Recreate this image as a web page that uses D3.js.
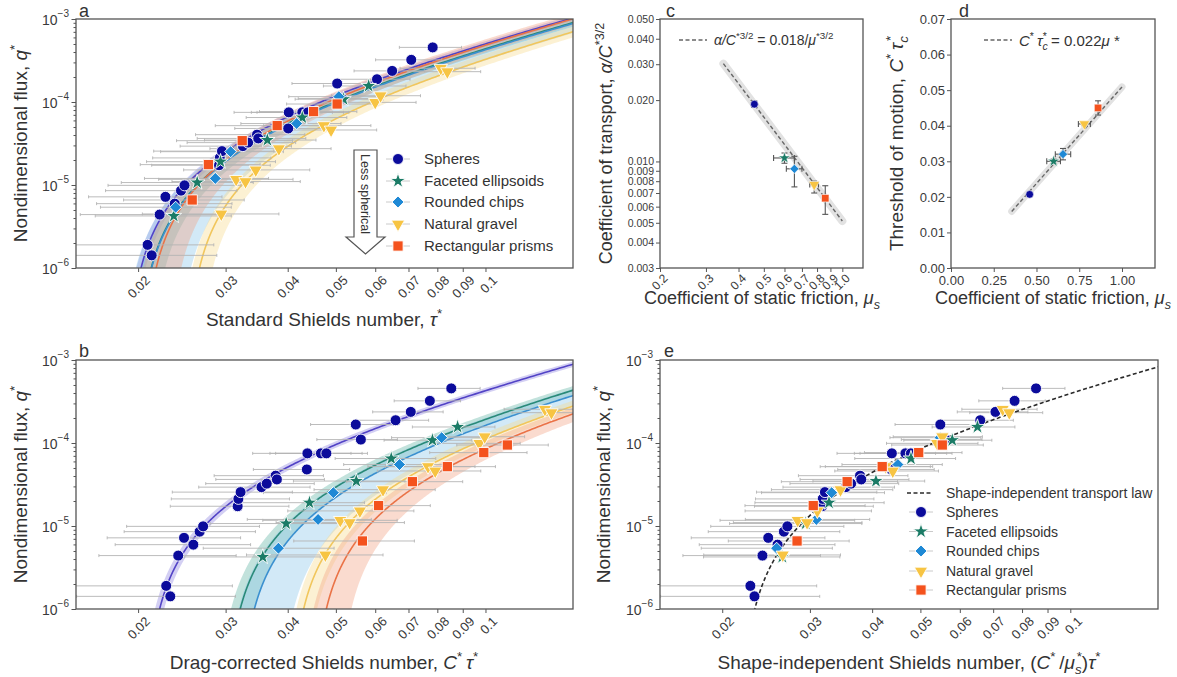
<!DOCTYPE html>
<html>
<head>
<meta charset="utf-8">
<script src="https://cdn.jsdelivr.net/npm/d3@7"></script>
<style>
  body { margin: 0; background: #fff; }
  text { font-family: "Liberation Sans", Arial, sans-serif; }
</style>
</head>
<body>
<div id="chart"></div>
<script>
// ---------- data ----------
var shapeNames = ["Spheres", "Faceted ellipsoids", "Rounded chips", "Natural gravel", "Rectangular prisms"];
var markerColors = ["#0b0b9b", "#1b7b66", "#1f89d5", "#f7c443", "#f4521d"];
var fitColors = ["#5243c6", "#2a8a78", "#3b90cf", "#f1c65c", "#ea7347"];
var bandColors = ["#8c82e0", "#5fb2a2", "#8ac4ea", "#f7d98c", "#f3a182"];

// drag coefficient C* (a -> b) and relative friction mu* (b -> e)
var dragC = [1.09, 1.51, 1.61, 1.62, 2.2];
var muRel = [1.0, 1.35, 1.49, 1.8, 2.0];

// panel c and d
var muS = [0.46, 0.60, 0.655, 0.78, 0.86];
var muErrC = [0.008, 0.055, 0.045, 0.03, 0.01];
var coefT = [0.0191, 0.0104, 0.0092, 0.0077, 0.0066];
var coefLo = [0.0184, 0.0098, 0.0075, 0.0070, 0.0055];
var coefHi = [0.0198, 0.0110, 0.0106, 0.0080, 0.0076];
var thresh = [0.0207, 0.030, 0.032, 0.0405, 0.045];
var threshErr = [0.0003, 0.0006, 0.0016, 0.0005, 0.002];
var muErrD = [0.008, 0.04, 0.045, 0.035, 0.01];

// fit bands in drag-corrected space: [coef, threshold] of upper and lower edge
var bandUpper = [[0.0205, 0.0203], [0.0115, 0.0288], [0.0108, 0.0298], [0.0088, 0.0393], [0.0076, 0.0425]];
var bandLower = [[0.0178, 0.0211], [0.0094, 0.0320], [0.0074, 0.0385], [0.0067, 0.0430], [0.0057, 0.0506]];

// shape-independent law (panel e)
var lawCoef = 0.018;
var lawThresh = 0.0218;

// fit lines in c and d (end points)
var fitC = [[0.35, 0.0302], [1.0, 0.0051]];
var fitD = [[0.355, 0.0159], [1.0, 0.0509]];

// measurements: standard Shields number, flux q*, error bar half width
var tauSph = [0.0209, 0.0213, 0.0221, 0.0227, 0.0237, 0.0244, 0.0248, 0.0291, 0.0292, 0.0295, 0.0325, 0.0333,
  0.0347, 0.0349, 0.0401, 0.0402, 0.0428, 0.0439, 0.0503, 0.0515, 0.0605, 0.0649, 0.0709, 0.0783];
var qSph = [1.9e-6, 1.42e-6, 4.4e-6, 7.2e-6, 5.96e-6, 8.55e-6, 9.9e-6, 1.73e-5, 2.12e-5, 2.56e-5, 2.94e-5, 3.24e-5,
  4.04e-5, 3.64e-5, 4.8e-5, 7.5e-5, 7.5e-5, 7.5e-5, 1.67e-4, 1.1e-4, 1.88e-4, 2.37e-4, 3.22e-4, 4.55e-4];
var errSph = [0.0075, 0.0075, 0.0068, 0.0068, 0.0072, 0.0072, 0.0074, 0.0078, 0.0078, 0.008, 0.0082, 0.0082,
  0.0086, 0.0086, 0.0088, 0.009, 0.009, 0.0092, 0.0095, 0.0095, 0.01, 0.0105, 0.0108, 0.0112];

var tauFac = [0.0236, 0.0263, 0.0293, 0.0364, 0.0428, 0.0518, 0.0582];
var qFac = [4.24e-6, 1.07e-5, 1.91e-5, 3.48e-5, 6.5e-5, 1.08e-4, 1.56e-4];
var errFac = [0.0072, 0.0078, 0.0085, 0.0092, 0.0098, 0.0104, 0.011];

var tauChip = [0.0238, 0.0286, 0.0307, 0.0417, 0.0507];
var qChip = [5.4e-6, 1.2e-5, 2.52e-5, 5.5e-5, 1.16e-4];
var errChip = [0.007, 0.008, 0.0085, 0.0095, 0.0105];

var tauGrav = [0.0294, 0.0315, 0.0329, 0.0345, 0.0384, 0.0473, 0.0489, 0.06, 0.0615, 0.0813, 0.0838];
var qGrav = [4.48e-6, 1.17e-5, 1.1e-5, 1.52e-5, 2.74e-5, 5.2e-5, 4.6e-5, 9.9e-5, 1.19e-4, 2.55e-4, 2.32e-4];
var errGrav = [0.009, 0.0095, 0.0095, 0.0098, 0.0105, 0.0115, 0.0115, 0.0125, 0.0125, 0.014, 0.014];

var tauPri = [0.0257, 0.0277, 0.0324, 0.0381, 0.0451, 0.0503];
var qPri = [6.6e-6, 1.76e-5, 3.42e-5, 5.19e-5, 7.66e-5, 9.46e-5];
var errPri = [0.007, 0.0075, 0.0085, 0.0095, 0.01, 0.0105];

var xTicksLog = [0.02, 0.03, 0.04, 0.05, 0.06, 0.07, 0.08, 0.09, 0.1];
var yTicksLog = [1e-6, 1e-5, 1e-4, 1e-3];
var cTicksX = [0.2, 0.3, 0.4, 0.5, 0.6, 0.7, 0.8, 0.9, 1.0];
var cTicksY = [0.003, 0.004, 0.005, 0.006, 0.007, 0.008, 0.009, 0.010, 0.020, 0.030, 0.040, 0.050];
var dTicksX = [0, 0.25, 0.5, 0.75, 1.0];
var dTicksY = [0, 0.01, 0.02, 0.03, 0.04, 0.05, 0.06, 0.07];

var series = [
  { tau: tauSph, q: qSph, err: errSph },
  { tau: tauFac, q: qFac, err: errFac },
  { tau: tauChip, q: qChip, err: errChip },
  { tau: tauGrav, q: qGrav, err: errGrav },
  { tau: tauPri, q: qPri, err: errPri }
];

// ---------- setup ----------
var width = 1177;
var height = 677;
var ink = "#333";
var frameColor = "#555";

var svg = d3.select("#chart").append("svg").attr("width", width).attr("height", height);
svg.append("rect").attr("width", width).attr("height", height).attr("fill", "#fff");

var symbolTypes = [d3.symbolCircle, d3.symbolStar, d3.symbolSquare, d3.symbolTriangle, d3.symbolSquare];
var symbolRot = [0, 0, 45, 180, 0];
var bigSizes = [95, 75, 72, 78, 105];
var smallSizes = [48, 45, 42, 50, 56];

function marker(g, i, cx, cy, sizes, edge) {
  g.append("path")
    .attr("d", d3.symbol().type(symbolTypes[i]).size(sizes[i])())
    .attr("transform", "translate(" + cx + "," + cy + ") rotate(" + symbolRot[i] + ")")
    .attr("fill", markerColors[i])
    .attr("stroke", "#fff")
    .attr("stroke-width", edge);
}

// text with italic / super / subscript pieces
function rich(t, parts, fs) {
  var shift = 0;
  parts.forEach(function (p) {
    var target = p.sup ? -0.42 * fs : p.sub ? 0.28 * fs : 0;
    var ts = t.append("tspan").text(p.t).attr("dy", target - shift);
    shift = target;
    if (p.sup || p.sub) ts.style("font-size", (0.7 * fs) + "px");
    if (p.it) ts.style("font-style", "italic");
    if (p.dx) ts.attr("dx", p.dx);
  });
}

function label(x, y, rot, parts, fs) {
  var t = svg.append("text")
    .attr("transform", "translate(" + x + "," + y + ") rotate(" + rot + ")")
    .attr("text-anchor", "middle")
    .attr("fill", ink)
    .style("font-size", fs + "px");
  rich(t, parts, fs);
  return t;
}

function letter(x, y, s) {
  svg.append("text").attr("x", x).attr("y", y).attr("fill", ink).style("font-size", "18px").text(s);
}

function clipFor(id, box) {
  svg.append("clipPath").attr("id", id).append("rect")
    .attr("x", box.x0).attr("y", box.y0).attr("width", box.x1 - box.x0).attr("height", box.y1 - box.y0);
}

function frame(box) {
  svg.append("rect").attr("x", box.x0).attr("y", box.y0)
    .attr("width", box.x1 - box.x0).attr("height", box.y1 - box.y0)
    .attr("fill", "none").attr("stroke", frameColor).attr("stroke-width", 1.3);
}

// ---------- log-log flux panels (a, b, e) ----------
function fluxPanel(box, id) {
  var x = d3.scaleLog().domain([0.015, 0.15]).range([box.x0, box.x1]);
  var y = d3.scaleLog().domain([1e-6, 1e-3]).range([box.y1, box.y0]);
  clipFor(id, box);

  var xa = svg.append("g").attr("transform", "translate(0," + box.y1 + ")").style("color", frameColor)
    .call(d3.axisBottom(x).tickValues(xTicksLog).tickSize(4).tickSizeOuter(0).tickFormat(d3.format("~g")));
  xa.select(".domain").remove();
  xa.selectAll("text")
    .attr("y", 0).attr("dy", "0.35em")
    .attr("transform", "translate(9,10) rotate(-45)")
    .attr("text-anchor", "end")
    .attr("fill", "#3a3a3a")
    .style("font-size", "13px");

  var minors = [];
  [1e-6, 1e-5, 1e-4].forEach(function (b) {
    for (var k = 2; k <= 9; k++) minors.push(b * k);
  });
  var ym = svg.append("g").attr("transform", "translate(" + box.x0 + ",0)").style("color", frameColor)
    .call(d3.axisLeft(y).tickValues(minors).tickSize(2.5).tickFormat(""));
  ym.select(".domain").remove();

  var ya = svg.append("g").attr("transform", "translate(" + box.x0 + ",0)").style("color", frameColor)
    .call(d3.axisLeft(y).tickValues(yTicksLog).tickSize(4.5).tickFormat(""));
  ya.select(".domain").remove();
  ya.selectAll(".tick").each(function (d) {
    var t = d3.select(this).append("text")
      .attr("x", -7).attr("dy", "0.4em").attr("text-anchor", "end")
      .attr("fill", "#3a3a3a").style("font-size", "14px");
    t.append("tspan").text("10");
    t.append("tspan").text("\u2212" + Math.round(-Math.log10(d))).attr("dy", -8).style("font-size", "10px");
  });

  var plot = svg.append("g").attr("clip-path", "url(#" + id + ")");
  return { x: x, y: y, plot: plot };
}

// transport law q = k (x - xc)^1.5 sampled in drag-corrected space, shown at x / s
function lawPoints(k, xc, s) {
  var xmax = 0.16 * s;
  return d3.range(0, 1.0001, 1 / 500).map(function (t) {
    var xb = xc + (xmax - xc) * Math.pow(10, -4.5 * (1 - t));
    return [xb / s, Math.max(k * Math.pow(xb - xc, 1.5), 1e-9)];
  });
}

function drawFits(P, shift) {
  var line = d3.line().x(function (d) { return P.x(d[0]); }).y(function (d) { return P.y(d[1]); });
  for (var i = 0; i < 5; i++) {
    var s = shift[i];
    var up = lawPoints(bandUpper[i][0], bandUpper[i][1], s);
    var lo = lawPoints(bandLower[i][0], bandLower[i][1], s).reverse();
    P.plot.append("path")
      .attr("d", line(up.concat(lo)) + "Z")
      .attr("fill", bandColors[i]).attr("fill-opacity", 0.38).attr("stroke", "none");
  }
  for (var j = 0; j < 5; j++) {
    P.plot.append("path")
      .attr("d", line(lawPoints(coefT[j], thresh[j], shift[j])))
      .attr("fill", "none").attr("stroke", fitColors[j]).attr("stroke-width", 1.6);
  }
}

function drawErrorBars(P, factor) {
  series.forEach(function (sr, i) {
    sr.tau.forEach(function (t, k) {
      var xc = t * factor[i], d = sr.err[k] * factor[i], yy = P.y(sr.q[k]);
      var x1 = P.x(Math.max(xc - d, 1e-4)), x2 = P.x(xc + d);
      P.plot.append("line").attr("x1", x1).attr("x2", x2).attr("y1", yy).attr("y2", yy)
        .attr("stroke", "#b4b4b4").attr("stroke-width", 0.9);
      [x1, x2].forEach(function (xe) {
        P.plot.append("line").attr("x1", xe).attr("x2", xe).attr("y1", yy - 1.5).attr("y2", yy + 1.5)
          .attr("stroke", "#b4b4b4").attr("stroke-width", 0.9);
      });
    });
  });
}

function drawMarkers(P, factor) {
  series.forEach(function (sr, i) {
    sr.tau.forEach(function (t, k) {
      marker(P.plot, i, P.x(t * factor[i]), P.y(sr.q[k]), bigSizes, 0.9);
    });
  });
}

var boxA = { x0: 76, x1: 573, y0: 19, y1: 268 };
var boxB = { x0: 76, x1: 573, y0: 360, y1: 609 };
var boxE = { x0: 660, x1: 1158, y0: 360, y1: 609 };
var boxC = { x0: 660, x1: 863, y0: 19, y1: 268 };
var boxD = { x0: 951, x1: 1155, y0: 19, y1: 268 };

var ones = [1, 1, 1, 1, 1];
var eFactor = dragC.map(function (c, i) { return c / muRel[i]; });

// panel a
var PA = fluxPanel(boxA, "clipA");
drawFits(PA, dragC);
drawErrorBars(PA, ones);
drawMarkers(PA, ones);
frame(boxA);

// panel b
var PB = fluxPanel(boxB, "clipB");
drawFits(PB, ones);
drawErrorBars(PB, dragC);
drawMarkers(PB, dragC);
frame(boxB);

// panel e
var PE = fluxPanel(boxE, "clipE");
drawErrorBars(PE, eFactor);
var lawLine = d3.line().x(function (d) { return PE.x(d[0]); }).y(function (d) { return PE.y(d[1]); });
PE.plot.append("path").attr("d", lawLine(lawPoints(lawCoef, lawThresh, 1)))
  .attr("fill", "none").attr("stroke", "#2a2a2a").attr("stroke-width", 1.6).attr("stroke-dasharray", "4,2.5");
drawMarkers(PE, eFactor);
frame(boxE);

// ---------- panel c ----------
var xc = d3.scaleLog().domain([0.2, 1.2]).range([boxC.x0, boxC.x1]);
var yc = d3.scaleLog().domain([0.003, 0.05]).range([boxC.y1, boxC.y0]);
var cx = svg.append("g").attr("transform", "translate(0," + boxC.y1 + ")").style("color", frameColor)
  .call(d3.axisBottom(xc).tickValues(cTicksX).tickSize(4).tickSizeOuter(0).tickFormat(d3.format(".1f")));
cx.select(".domain").remove();
cx.selectAll("text").attr("y", 0).attr("dy", "0.35em")
  .attr("transform", "translate(5,8) rotate(-45)").attr("text-anchor", "end")
  .attr("fill", "#3a3a3a").style("font-size", "12px");
var cy = svg.append("g").attr("transform", "translate(" + boxC.x0 + ",0)").style("color", frameColor)
  .call(d3.axisLeft(yc).tickValues(cTicksY).tickSize(4).tickSizeOuter(0).tickFormat(d3.format(".3f")));
cy.select(".domain").remove();
cy.selectAll("text").attr("fill", "#3a3a3a").style("font-size", "10.5px").attr("x", -6);

var lineC = d3.line().x(function (d) { return xc(d[0]); }).y(function (d) { return yc(d[1]); });
svg.append("path").attr("d", lineC(fitC)).attr("stroke", "#e2e2e2").attr("stroke-width", 8)
  .attr("stroke-linecap", "round").attr("fill", "none");
svg.append("path").attr("d", lineC(fitC)).attr("stroke", "#666").attr("stroke-width", 1.4)
  .attr("stroke-dasharray", "4,2.5").attr("fill", "none");
muS.forEach(function (m, i) {
  var px = xc(m), py = yc(coefT[i]);
  var e1 = xc(m - muErrC[i]), e2 = xc(m + muErrC[i]);
  var v1 = yc(coefLo[i]), v2 = yc(coefHi[i]);
  var eb = svg.append("g").attr("stroke", "#555").attr("stroke-width", 1.1);
  eb.append("line").attr("x1", e1).attr("x2", e2).attr("y1", py).attr("y2", py);
  eb.append("line").attr("x1", e1).attr("x2", e1).attr("y1", py - 3).attr("y2", py + 3);
  eb.append("line").attr("x1", e2).attr("x2", e2).attr("y1", py - 3).attr("y2", py + 3);
  eb.append("line").attr("x1", px).attr("x2", px).attr("y1", v1).attr("y2", v2);
  eb.append("line").attr("x1", px - 3).attr("x2", px + 3).attr("y1", v1).attr("y2", v1);
  eb.append("line").attr("x1", px - 3).attr("x2", px + 3).attr("y1", v2).attr("y2", v2);
  marker(svg, i, px, py, smallSizes, 0.6);
});
frame(boxC);
svg.append("line").attr("x1", 679).attr("x2", 707).attr("y1", 40).attr("y2", 40)
  .attr("stroke", "#666").attr("stroke-width", 1.4).attr("stroke-dasharray", "4,2.5");
var lc = svg.append("text").attr("x", 714).attr("y", 45).attr("fill", ink).style("font-size", "14px");
rich(lc, [{ t: "\u03b1/C", it: true }, { t: "*3/2", sup: true }, { t: " = 0.018/" }, { t: "\u03bc", it: true }, { t: "*3/2", sup: true }], 14);

// ---------- panel d ----------
var xd = d3.scaleLinear().domain([0, 1.193]).range([boxD.x0, boxD.x1]);
var yd = d3.scaleLinear().domain([0, 0.07]).range([boxD.y1, boxD.y0]);
var dx = svg.append("g").attr("transform", "translate(0," + boxD.y1 + ")").style("color", frameColor)
  .call(d3.axisBottom(xd).tickValues(dTicksX).tickSize(4).tickSizeOuter(0).tickFormat(d3.format(".2f")));
dx.select(".domain").remove();
dx.selectAll("text").attr("fill", "#3a3a3a").style("font-size", "13px").attr("y", 8);
var dy = svg.append("g").attr("transform", "translate(" + boxD.x0 + ",0)").style("color", frameColor)
  .call(d3.axisLeft(yd).tickValues(dTicksY).tickSize(4).tickSizeOuter(0).tickFormat(d3.format(".2f")));
dy.select(".domain").remove();
dy.selectAll("text").attr("fill", "#3a3a3a").style("font-size", "13px").attr("x", -6);

var lineD = d3.line().x(function (d) { return xd(d[0]); }).y(function (d) { return yd(d[1]); });
svg.append("path").attr("d", lineD(fitD)).attr("stroke", "#e2e2e2").attr("stroke-width", 7)
  .attr("stroke-linecap", "round").attr("fill", "none");
svg.append("path").attr("d", lineD(fitD)).attr("stroke", "#666").attr("stroke-width", 1.4)
  .attr("stroke-dasharray", "4,2.5").attr("fill", "none");
muS.forEach(function (m, i) {
  var px = xd(m), py = yd(thresh[i]);
  var e1 = xd(m - muErrD[i]), e2 = xd(m + muErrD[i]);
  var v1 = yd(thresh[i] - threshErr[i]), v2 = yd(thresh[i] + threshErr[i]);
  var eb = svg.append("g").attr("stroke", "#555").attr("stroke-width", 1.1);
  eb.append("line").attr("x1", e1).attr("x2", e2).attr("y1", py).attr("y2", py);
  eb.append("line").attr("x1", e1).attr("x2", e1).attr("y1", py - 3).attr("y2", py + 3);
  eb.append("line").attr("x1", e2).attr("x2", e2).attr("y1", py - 3).attr("y2", py + 3);
  eb.append("line").attr("x1", px).attr("x2", px).attr("y1", v1).attr("y2", v2);
  eb.append("line").attr("x1", px - 3).attr("x2", px + 3).attr("y1", v1).attr("y2", v1);
  eb.append("line").attr("x1", px - 3).attr("x2", px + 3).attr("y1", v2).attr("y2", v2);
  marker(svg, i, px, py, smallSizes, 0.6);
});
frame(boxD);
svg.append("line").attr("x1", 984).attr("x2", 1012).attr("y1", 40).attr("y2", 40)
  .attr("stroke", "#666").attr("stroke-width", 1.4).attr("stroke-dasharray", "4,2.5");
var ld = svg.append("text").attr("x", 1019).attr("y", 46).attr("fill", ink).style("font-size", "15px");
rich(ld, [{ t: "C", it: true }, { t: "*", sup: true }, { t: "\u2009" }, { t: "\u03c4", it: true }, { t: "c", sub: true, it: true },
  { t: "*", sup: true, dx: -5 }, { t: " = 0.022" }, { t: "\u03bc", it: true }, { t: " *" }], 15);

// ---------- legends ----------
var legA = [159, 181, 202, 224, 246];
shapeNames.forEach(function (n, i) {
  svg.append("line").attr("x1", 386).attr("x2", 410).attr("y1", legA[i]).attr("y2", legA[i])
    .attr("stroke", "#c4c4c4").attr("stroke-width", 0.9);
  marker(svg, i, 398, legA[i], bigSizes, 0.9);
  svg.append("text").attr("x", 424).attr("y", legA[i]).attr("dy", "0.36em")
    .attr("fill", ink).style("font-size", "15px").text(n);
});
// less spherical arrow
svg.append("path")
  .attr("d", "M354,150 L377,150 L377,237 L385,237 L365.5,254 L346,237 L354,237 Z")
  .attr("fill", "#fff").attr("stroke", "#555").attr("stroke-width", 1.2);
svg.append("text").attr("transform", "translate(365.5,194) rotate(90)").attr("text-anchor", "middle")
  .attr("dy", "0.35em").attr("fill", ink).style("font-size", "12.5px").text("Less spherical");

var legE = [512, 531.5, 551, 571, 590];
svg.append("line").attr("x1", 907).attr("x2", 933).attr("y1", 493).attr("y2", 493)
  .attr("stroke", "#2a2a2a").attr("stroke-width", 1.5).attr("stroke-dasharray", "4,2.5");
svg.append("text").attr("x", 946).attr("y", 493).attr("dy", "0.36em").attr("fill", ink)
  .style("font-size", "14px").text("Shape-independent transport law");
shapeNames.forEach(function (n, i) {
  svg.append("line").attr("x1", 909).attr("x2", 933).attr("y1", legE[i]).attr("y2", legE[i])
    .attr("stroke", "#c4c4c4").attr("stroke-width", 0.9);
  marker(svg, i, 921, legE[i], bigSizes, 0.9);
  svg.append("text").attr("x", 946).attr("y", legE[i]).attr("dy", "0.36em")
    .attr("fill", ink).style("font-size", "14px").text(n);
});

// ---------- labels ----------
letter(79, 17, "a");
letter(79, 357, "b");
letter(666, 17, "c");
letter(959, 17, "d");
letter(664, 357, "e");

var fluxLab = [{ t: "Nondimensional flux, " }, { t: "q", it: true }, { t: "*", sup: true }];
label(27, 143.5, -90, fluxLab, 19);
label(27, 484.5, -90, fluxLab, 19);
label(610, 484.5, -90, fluxLab, 19);

label(324, 326, 0, [{ t: "Standard Shields number, " }, { t: "\u03c4", it: true }, { t: "*", sup: true }], 19);
label(324, 669, 0, [{ t: "Drag-corrected Shields number, " }, { t: "C", it: true }, { t: "*", sup: true },
  { t: "\u2009" }, { t: "\u03c4", it: true }, { t: "*", sup: true }], 19);
label(909, 669, 0, [{ t: "Shape-independent Shields number, (" }, { t: "C", it: true }, { t: "*", sup: true },
  { t: "\u2009/" }, { t: "\u03bc", it: true }, { t: "s", sub: true, it: true }, { t: "*", sup: true, dx: -5 },
  { t: ")" }, { t: "\u03c4", it: true }, { t: "*", sup: true }], 19);

var fricLab = [{ t: "Coefficient of static friction, " }, { t: "\u03bc", it: true }, { t: "s", sub: true, it: true }];
label(762, 304, 0, fricLab, 18);
label(1053, 304, 0, fricLab, 18);
label(612, 143.5, -90, [{ t: "Coefficient of transport, " }, { t: "\u03b1/C", it: true }, { t: "*3/2", sup: true }], 18);
label(903, 143.5, -90, [{ t: "Threshold of motion, " }, { t: "C", it: true }, { t: "*", sup: true }, { t: "\u2009" },
  { t: "\u03c4", it: true }, { t: "c", sub: true, it: true }, { t: "*", sup: true, dx: -5 }], 19);
</script>
</body>
</html>
